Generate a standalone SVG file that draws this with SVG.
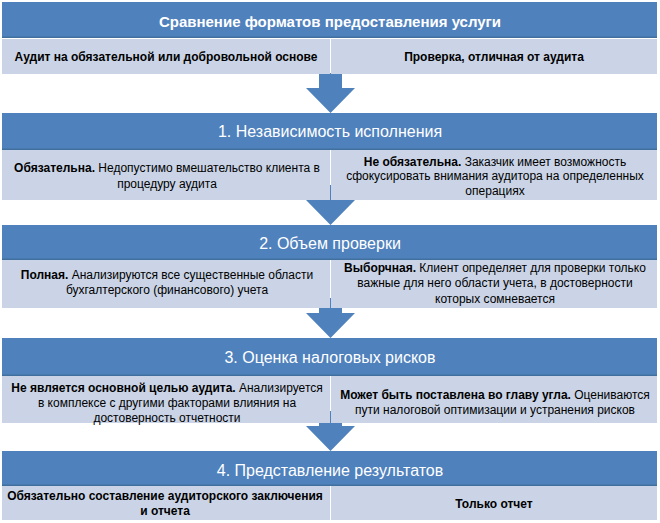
<svg xmlns="http://www.w3.org/2000/svg" width="660" height="523" viewBox="0 0 660 523">
<style>
.hdr{fill:#4f81bd}
.hdrline{fill:#41709f}
.cell{fill:#cad4e6}
.ht{font-family:"Liberation Sans",Arial,sans-serif;font-size:16px;fill:#ffffff;text-anchor:middle}
.tt{font-family:"Liberation Sans",Arial,sans-serif;font-size:15px;font-weight:bold;fill:#ffffff;text-anchor:middle}
.ct{font-family:"Liberation Sans",Arial,sans-serif;font-size:12px;fill:#000000;text-anchor:middle}
.b{font-weight:bold}
.arrow{fill:#4f81bd}
</style>
<rect width="660" height="523" fill="#ffffff"/>
<defs>
<path id="arr" d="M-11.5,-40 H11.5 V-25 H24.5 L0,0 L-24.5,-25 H-11.5 Z"/>
</defs>
<g id="connectors">
<use href="#arr" class="arrow" x="330.5" y="113"/>
<use href="#arr" class="arrow" x="330.5" y="225"/>
<use href="#arr" class="arrow" x="330.5" y="338"/>
<use href="#arr" class="arrow" x="330.5" y="451"/>
</g>
<g id="title">
<rect class="hdr" x="2" y="2" width="655" height="36"/>
<rect class="hdrline" x="2" y="36.5" width="655" height="1.5"/>
<text class="tt" x="330" y="27">Сравнение форматов предоставления услуги</text>
</g>
<g id="row0">
<rect class="cell" x="2" y="39" width="328" height="35"/>
<rect class="cell" x="331" y="39" width="326" height="35"/>
<text class="ct b" x="166" y="61">Аудит на обязательной или добровольной основе</text>
<text class="ct b" x="494" y="61">Проверка, отличная от аудита</text>
</g>
<g id="section1">
<rect class="hdr" x="2" y="113" width="655" height="37"/>
<rect class="hdrline" x="2" y="148.5" width="655" height="1.5"/>
<text class="ht" x="330" y="137">1. Независимость исполнения</text>
</g>
<g id="row1">
<rect class="cell" x="2" y="150" width="328" height="50"/>
<rect class="cell" x="331" y="150" width="326" height="50"/>
<text class="ct" x="167" y="172"><tspan class="b">Обязательна.</tspan> Недопустимо вмешательство клиента в</text>
<text class="ct" x="167" y="188">процедуру аудита</text>
<text class="ct" x="495" y="166"><tspan class="b">Не обязательна.</tspan> Заказчик имеет возможность</text>
<text class="ct" x="495" y="180">сфокусировать внимания аудитора на определенных</text>
<text class="ct" x="495" y="195">операциях</text>
</g>
<g id="section2">
<rect class="hdr" x="2" y="225" width="655" height="35"/>
<rect class="hdrline" x="2" y="258.5" width="655" height="1.5"/>
<text class="ht" x="330" y="249">2. Объем проверки</text>
</g>
<g id="row2">
<rect class="cell" x="2" y="260" width="328" height="48"/>
<rect class="cell" x="331" y="260" width="326" height="48"/>
<text class="ct" x="167" y="279"><tspan class="b">Полная.</tspan> Анализируются все существенные области</text>
<text class="ct" x="167" y="294">бухгалтерского (финансового) учета</text>
<text class="ct" x="495" y="272"><tspan class="b">Выборчная.</tspan> Клиент определяет для проверки только</text>
<text class="ct" x="495" y="287">важные для него области учета, в достоверности</text>
<text class="ct" x="495" y="303">которых сомневается</text>
</g>
<g id="section3">
<rect class="hdr" x="2" y="338" width="655" height="38"/>
<rect class="hdrline" x="2" y="374.5" width="655" height="1.5"/>
<text class="ht" x="330" y="363">3. Оценка налоговых рисков</text>
</g>
<g id="row3">
<rect class="cell" x="2" y="376" width="328" height="47"/>
<rect class="cell" x="331" y="376" width="326" height="47"/>
<text class="ct" x="167" y="392"><tspan class="b">Не является основной целью аудита.</tspan> Анализируется</text>
<text class="ct" x="167" y="407">в комплексе с другими факторами влияния на</text>
<text class="ct" x="167" y="422">достоверность отчетности</text>
<text class="ct" x="495" y="399"><tspan class="b">Может быть поставлена во главу угла.</tspan> Оцениваются</text>
<text class="ct" x="495" y="414">пути налоговой оптимизации и устранения рисков</text>
</g>
<g id="section4">
<rect class="hdr" x="2" y="451" width="655" height="35"/>
<rect class="hdrline" x="2" y="484.5" width="655" height="1.5"/>
<text class="ht" x="330" y="476">4. Представление результатов</text>
</g>
<g id="row4">
<rect class="cell" x="2" y="486" width="328" height="34"/>
<rect class="cell" x="331" y="486" width="326" height="34"/>
<text class="ct b" x="165" y="500">Обязательно составление аудиторского заключения</text>
<text class="ct b" x="165" y="515">и отчета</text>
<text class="ct b" x="494" y="508">Только отчет</text>
</g>
</svg>
